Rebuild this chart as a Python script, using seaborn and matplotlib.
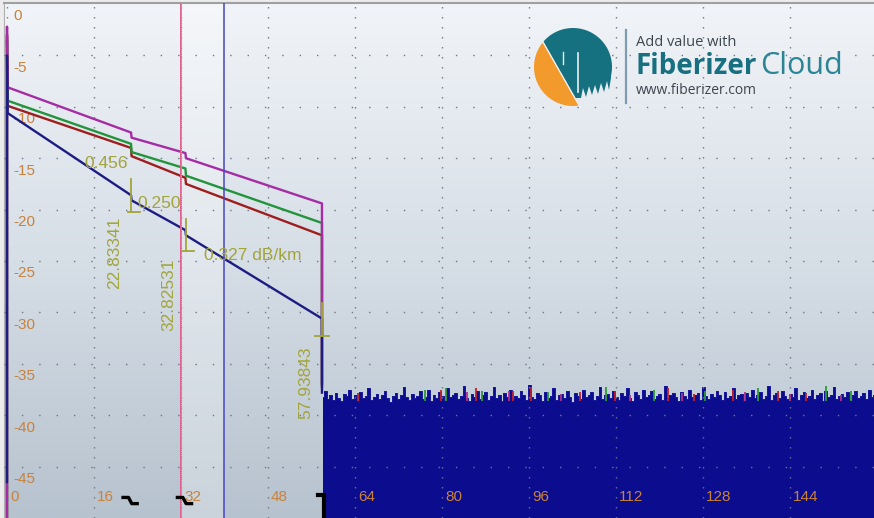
import numpy as np
import pandas as pd
import matplotlib
matplotlib.use("Agg")
import matplotlib.pyplot as plt
from matplotlib.patches import Polygon
from matplotlib.lines import Line2D
import seaborn as sns

# OTDR traces, breakpoints (km, dB)
trace_km = [0, 0, 0.1, 22.8, 22.9, 32.8, 32.9, 57.9, 57.9]
red_db = [-50, -3.0, -9.9, -14.0, -14.8, -16.9, -17.5, -22.5, -37.2]
green_db = [-50, -3.5, -9.4, -13.6, -14.4, -16.0, -16.7, -21.3, -37.0]
magenta_db = [-50, -2.2, -8.1, -12.5, -13.0, -14.5, -15.0, -19.4, -36.9]
navy_db = [-46.5, -5.0, -10.6, -18.6, -19.1, -22.0, -22.5, -30.6, -37.8]

# noise floor after the fiber end, one sample every 0.5 km from 58 km
noise_start_km = 58.0
noise_step_km = 0.5
noise_db = [
    -38.2, -37.6, -38.4, -38.0, -38.5, -37.8, -38.3, -38.6, -37.9, -38.1, -37.5, -38.4,
    -38.0, -38.6, -37.7, -38.3, -38.1, -37.4, -38.5, -38.2, -37.9, -38.4, -38.0, -37.6,
    -38.3, -38.7, -38.1, -37.8, -38.4, -38.0, -37.3, -38.2, -38.5, -37.9, -38.3, -38.1,
    -37.6, -38.4, -38.2, -37.5, -38.6, -38.0, -38.3, -37.7, -38.1, -38.5, -37.4, -38.2,
    -38.0, -37.8, -38.4, -38.1, -37.2, -38.3, -38.6, -37.9, -38.2, -37.6, -38.4, -38.0,
    -37.7, -38.5, -38.1, -37.3, -38.3, -38.0, -38.6, -37.8, -38.2, -37.5, -38.4, -38.1,
    -38.3, -37.6, -38.0, -38.5, -37.1, -38.2, -38.4, -37.8, -38.0, -38.6, -37.7, -38.3,
    -38.1, -37.4, -38.5, -38.0, -37.9, -38.3, -37.6, -38.2, -38.7, -37.8, -38.1, -38.4,
    -37.5, -38.2, -38.0, -37.7, -38.5, -38.1, -37.3, -38.4, -38.0, -37.9, -38.3, -37.6,
    -38.2, -38.5, -37.8, -38.1, -37.4, -38.3, -38.6, -37.7, -38.0, -38.4, -37.5, -38.2,
    -38.0, -37.6, -38.4, -38.1, -37.9, -38.5, -37.2, -38.3, -38.0, -37.8, -38.2, -38.6,
    -37.7, -38.1, -38.4, -37.5, -38.2, -38.0, -37.8, -38.5, -37.3, -38.1, -38.4, -37.9,
    -38.2, -37.6, -38.0, -38.5, -37.7, -38.3, -38.1, -37.4, -38.4, -38.0, -37.9, -38.6,
    -37.8, -38.2, -37.5, -38.3, -38.0, -37.7, -38.4, -38.1, -37.2, -38.5, -38.0, -37.8,
    -38.3, -37.6, -38.1, -38.4, -37.9, -38.2, -37.4, -38.5, -38.0, -37.7, -38.3, -38.1,
    -37.5, -38.4, -38.0, -37.8, -38.6, -37.6, -38.2, -38.0, -37.3, -38.4, -38.1, -37.9,
    -38.2, -37.7, -38.5, -38.0, -37.6, -38.3, -38.1, -37.8, -38.4, -37.5, -38.2, -38.0,
]
# other traces' noise peeking over the navy one
red_spike_km = [64.5, 79.8, 86.2, 93.1, 96.4, 105.3, 111.7, 121.6, 126.2, 133.4, 141.8, 146.9]
red_spike_db = [-37.8, -37.5, -37.4, -37.6, -37.3, -37.7, -37.6, -37.4, -37.9, -37.5, -37.6, -37.8]
green_spike_km = [76.9, 80.7, 87.3, 99.5, 110.2, 118.9, 128.4, 138.1, 150.6, 155.2]
green_spike_db = [-37.5, -37.4, -37.6, -37.7, -37.3, -37.5, -37.6, -37.4, -37.2, -37.6]
magenta_spike_km = [84.6, 92.2, 101.8, 114.5, 124.1, 135.7, 143.9, 153.4]
magenta_spike_db = [-37.7, -37.6, -37.9, -38.0, -37.8, -37.7, -37.9, -38.0]

# cursors A / B
cursor_km = [31.9, 39.9]

# events
event_km = [22.83341, 32.82531, 57.93843]
event_kind = ["loss", "loss", "end"]
marker_top_db = [-17.0, -20.9, -29.1]
marker_bot_db = [-20.2, -24.0, -32.3]
event_label_db = [-24.2, -28.3, -36.8]

note_text = ["0.456", "0.250", "0.327 dB/km"]
note_km = [14.2, 23.9, 36.3]
note_db = [-15.5, -19.4, -24.5]

x_ticks = [0, 16, 32, 48, 64, 80, 96, 112, 128, 144]
y_ticks = [0, -5, -10, -15, -20, -25, -30, -35, -40, -45]

colors = {"red": "#9e1e1e", "green": "#22953c", "magenta": "#a52ca5", "navy": "#1c1c82"}
note_color = "#a3a43a"
tick_color = "#c8823c"
noise_color = "#0c0c8e"

W, H = 874, 518
fig = plt.figure(figsize=(W / 100, H / 100), dpi=100, facecolor="#ececec")
ax = fig.add_axes([4 / W, 0, (W - 4) / W, (H - 3) / H])
ax.set_xlim(-0.55, -0.55 + (W - 4) / 5.44)
ax.set_ylim(-50, 0.1)

# background gradient
grad = np.linspace(0, 1, 256).reshape(-1, 1)
cmap = matplotlib.colors.LinearSegmentedColormap.from_list("bg", ["#f1f4f8", "#d6dee6", "#b6c2ce"])
ax.imshow(grad, extent=[-0.55, 160, -50, 0.1], aspect="auto", cmap=cmap, zorder=0, origin="upper")
ax.axvspan(cursor_km[0], cursor_km[1], color="white", alpha=0.28, lw=0, zorder=0.5)

# dotted grid
for xv in x_ticks:
    ax.axvline(xv, color="#6f7680", lw=1.0, ls=(0, (1, 6.2)), zorder=3)
for yv in y_ticks[1:]:
    ax.axhline(yv, color="#6f7680", lw=1.0, ls=(0, (1, 11.5)), zorder=3)

# tick labels drawn inside the plot like the OTDR screen
for yv in y_ticks:
    ax.text(1.1, yv - 1.2, str(yv), color=tick_color, fontsize=11,
            family="Liberation Sans", va="center", ha="left", zorder=1)
for xv in x_ticks:
    ax.text(xv + 0.55, -48.0, str(xv), color=tick_color, fontsize=11,
            family="Liberation Sans", va="center", ha="left", zorder=6)

# noise floor
noise_km = noise_start_km + noise_step_km * np.arange(len(noise_db))
ax.fill_between(noise_km, -50, noise_db, step="mid", color=noise_color, lw=0, zorder=2)
ax.step(noise_km, noise_db, where="mid", color="#18189a", lw=0.7, zorder=2)
ax.vlines(red_spike_km, -38.6, red_spike_db, color="#c0202a", lw=1.3, zorder=2.5)
ax.vlines(green_spike_km, -38.6, green_spike_db, color="#2a9a3a", lw=1.3, zorder=2.5)
ax.vlines(magenta_spike_km, -38.6, magenta_spike_db, color="#b0308a", lw=1.3, zorder=2.5)

# traces
rows = []
for name, vals in [("red", red_db), ("green", green_db), ("magenta", magenta_db), ("navy", navy_db)]:
    for i, (k, d) in enumerate(zip(trace_km, vals)):
        rows.append({"trace": name, "km": k, "db": d, "idx": i})
df = pd.DataFrame(rows)
sns.lineplot(data=df, x="km", y="db", hue="trace", palette=colors, sort=False,
             estimator=None, units="trace", lw=1.7, legend=False, ax=ax, zorder=4)

# cursors
ax.axvline(cursor_km[0], color="#e0608c", lw=1.4, zorder=5)
ax.axvline(cursor_km[0], color="#f8d0dc", lw=0.5, ls=(0, (1, 2)), zorder=5)
ax.axvline(cursor_km[1], color="#4646c0", lw=1.1, zorder=5)

# event markers and labels
for k, top, bot, lab_db, kind in zip(event_km, marker_top_db, marker_bot_db, event_label_db, event_kind):
    ax.plot([k, k], [top, bot], color=note_color, lw=1.3, zorder=6)
    if kind == "end":
        ax.plot([k - 1.3, k + 1.3], [bot, bot], color=note_color, lw=1.3, zorder=6)
        ax.plot([k - 0.8, k + 0.3, k + 0.3], [-47.8, -47.8, -50], color="black", lw=3, zorder=6,
                solid_joinstyle="miter")
    else:
        ax.plot([k - 0.6, k + 1.6], [bot, bot], color=note_color, lw=1.3, zorder=6)
        ax.plot([k - 1.5, k - 0.5, k + 0.1, k + 1.1], [-48.0, -48.0, -48.6, -48.6],
                color="black", lw=2.4, zorder=6)
    ax.text(k - 3.1, lab_db, f"{k:.5f}", rotation=90, color=note_color, fontsize=12.5,
            family="Liberation Sans", va="center", ha="center", zorder=6)
for t, k, d in zip(note_text, note_km, note_db):
    ax.text(k, d, t, color=note_color, fontsize=12.5, family="Liberation Sans",
            va="center", ha="left", zorder=6)

ax.set_xlabel("")
ax.set_ylabel("")
ax.set_xticks([])
ax.set_yticks([])
for s in ["right", "bottom"]:
    ax.spines[s].set_visible(False)
ax.spines["top"].set_color("#a0a0a0")
ax.spines["left"].set_color("#b0b0b0")
ax.spines["top"].set_linewidth(1.5)


# logo, drawn in screen pixels
def px(pts):
    pts = np.asarray(pts, dtype=float)
    return np.column_stack([pts[:, 0] / W, 1 - pts[:, 1] / H])


cx, cy, r = 573, 67, 39


def arc(a0, a1, n=60):
    a = np.radians(np.linspace(a0, a1, n))
    return np.column_stack([cx + r * np.cos(a), cy - r * np.sin(a)])


orange = arc(140, 280)
fig.add_artist(Polygon(px(orange), closed=True, transform=fig.transFigure,
                       facecolor="#f39a2c", edgecolor="none", zorder=10))
skyline = [(611, 78), (609, 90), (607, 81), (604, 92), (601, 83), (598, 94), (595, 85),
           (592, 95), (589, 86), (586, 97), (583, 88), (581, 98), (575, 98)]
teal = np.vstack([arc(140, -12)[:], skyline])
fig.add_artist(Polygon(px(teal), closed=True, transform=fig.transFigure,
                       facecolor="#15707f", edgecolor="none", zorder=10))
fig.add_artist(Line2D(*px([(543, 42), (580, 107)]).T, transform=fig.transFigure,
                      color="#f4f4f4", lw=1.0, zorder=11))
fig.add_artist(Line2D(*px([(578, 53), (578, 92)]).T, transform=fig.transFigure,
                      color="#eaf0f2", lw=1.2, zorder=11))
fig.add_artist(Line2D(*px([(563, 52), (563, 64)]).T, transform=fig.transFigure,
                      color="#eaf0f2", lw=1.0, zorder=11))
fig.add_artist(Line2D(*px([(626, 30), (626, 103)]).T, transform=fig.transFigure,
                      color="#7f9bb0", lw=1.6, zorder=10))

fig.text(636 / W, 1 - 42 / H, "Add value with", color="#3d464e", fontsize=10.5,
         family="Open Sans", va="center", ha="left", zorder=12)
fig.text(635 / W, 1 - 74 / H, "Fiberizer", color="#176f80", fontsize=20,
         family="Open Sans", weight="bold", va="baseline", ha="left", zorder=12)
fig.text(760 / W, 1 - 74 / H, "Cloud", color="#2b8594", fontsize=22,
         family="Open Sans", va="baseline", ha="left", zorder=12)
fig.text(636 / W, 1 - 91 / H, "www.fiberizer.com", color="#3d464e", fontsize=10,
         family="Open Sans", va="center", ha="left", zorder=12)

fig.savefig("out.png", dpi=100, facecolor=fig.get_facecolor())
